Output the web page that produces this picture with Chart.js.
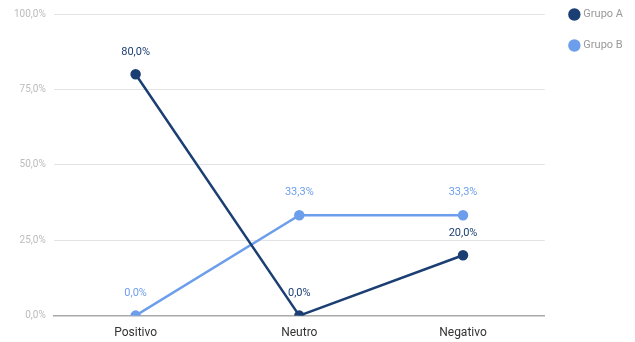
<!DOCTYPE html>
<html>
<head>
<meta charset="utf-8">
<script src="https://cdn.jsdelivr.net/npm/chart.js@4"></script>
<style>
    html, body { margin: 0; padding: 0; background: #fff; }
    #wrap { width: 635px; height: 342px; }
</style>
</head>
<body>
<div id="wrap"><canvas id="chart"></canvas></div>
<script>
// chart data
const categories = ["Positivo", "Neutro", "Negativo"];
const grupoA = [80.0, 0.0, 20.0];
const grupoB = [0.0, 33.3, 33.3];
const yTicks = [0, 25, 50, 75, 100];

const colorA = "#1c3f73";
const colorB = "#6d9eeb";

function fmt(v) {
    return v.toFixed(1).replace(".", ",") + "%";
}

// draws the value above each point
const pointLabels = {
    id: "pointLabels",
    afterDatasetsDraw(chart) {
        const ctx = chart.ctx;
        ctx.save();
        ctx.font = "11px 'Roboto', sans-serif";
        ctx.textAlign = "center";
        ctx.textBaseline = "bottom";
        chart.data.datasets.forEach((ds, i) => {
            const meta = chart.getDatasetMeta(i);
            meta.data.forEach((pt, j) => {
                ctx.fillStyle = ds.borderColor;
                ctx.fillText(fmt(ds.data[j]), pt.x, pt.y - 17);
            });
        });
        ctx.restore();
    },
};

// nudge the legend box to sit top right like the original
const legendShift = {
    id: "legendShift",
    afterLayout(chart) {
        const lg = chart.legend;
        const dx = 6, dy = -20;
        lg.left += dx; lg.right += dx;
        lg.top += dy; lg.bottom += dy;
    },
};

new Chart(document.getElementById("chart"), {
    type: "line",
    data: {
        labels: categories,
        datasets: [
            {
                label: "Grupo A",
                data: grupoA,
                borderColor: colorA,
                backgroundColor: colorA,
                borderWidth: 2.5,
                pointRadius: 4,
                pointHoverRadius: 4,
            },
            {
                label: "Grupo B",
                data: grupoB,
                borderColor: colorB,
                backgroundColor: colorB,
                borderWidth: 2.5,
                pointRadius: 4,
                pointHoverRadius: 4,
            },
        ],
    },
    options: {
        responsive: true,
        maintainAspectRatio: false,
        animation: false,
        layout: { padding: { top: 9, left: 6, right: 8, bottom: 0 } },
        plugins: {
            legend: {
                position: "right",
                align: "start",
                labels: {
                    usePointStyle: true,
                    pointStyle: "circle",
                    boxWidth: 7,
                    boxHeight: 7,
                    padding: 20,
                    color: "#999",
                    font: { size: 11, family: "Roboto" },
                },
            },
            tooltip: { enabled: false },
        },
        scales: {
            x: {
                offset: true,
                grid: { display: false },
                border: { color: "#aaa", width: 1.5 },
                ticks: { color: "#333", padding: 2, font: { size: 12, family: "Roboto" } },
            },
            y: {
                min: 0,
                max: 100,
                afterBuildTicks(axis) {
                    axis.ticks = yTicks.map((v) => ({ value: v }));
                },
                grid: { color: "#e3e3e3", drawTicks: false },
                border: { display: false },
                ticks: {
                    padding: 8,
                    color: "#bbb",
                    font: { size: 10, family: "Roboto" },
                    callback: (v) => fmt(v),
                },
            },
        },
    },
    plugins: [pointLabels, legendShift],
});
</script>
</body>
</html>
